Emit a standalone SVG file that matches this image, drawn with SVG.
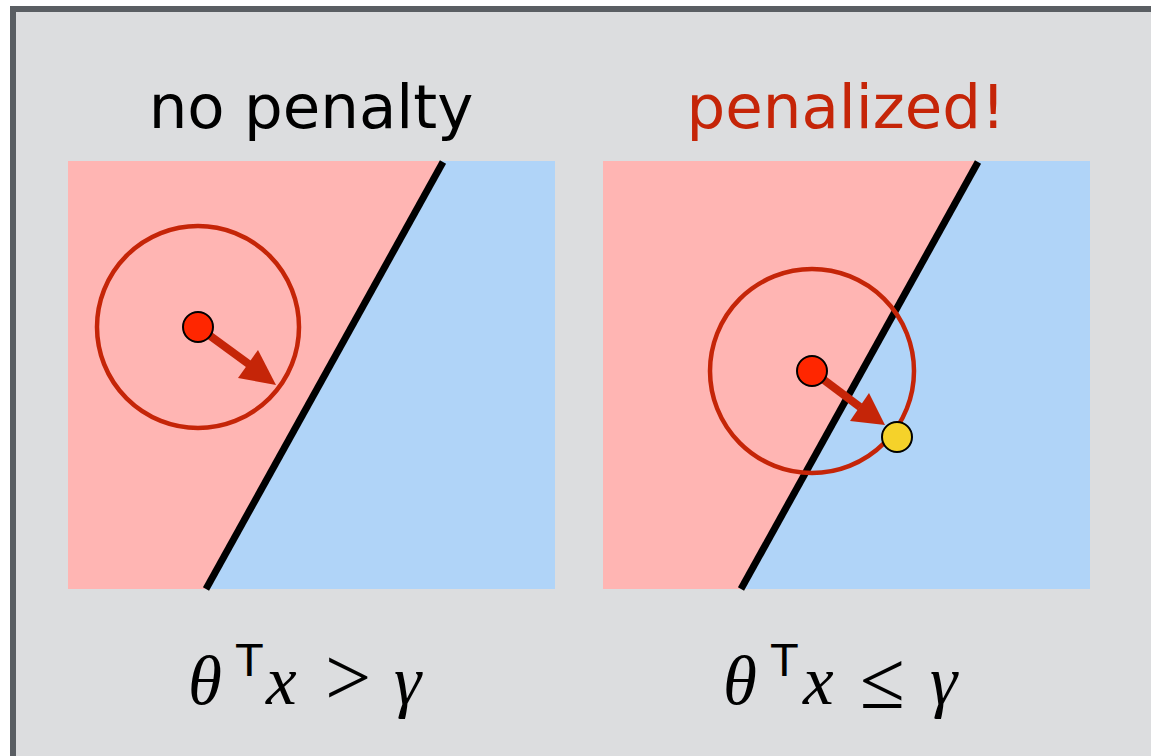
<svg xmlns="http://www.w3.org/2000/svg" width="1151" height="756" viewBox="0 0 1151 756">
<style>
.pink{fill:#FFB5B3}
.blue{fill:#B0D4F8}
.bound{stroke:#000;stroke-width:7;fill:none}
.ring{fill:none;stroke:#C52508;stroke-width:4.5}
.dot{fill:#FF2600;stroke:#000;stroke-width:2}
.ydot{fill:#F5D22A;stroke:#000;stroke-width:2}
.shaft{stroke:#C52508;stroke-width:8;fill:none}
.head{fill:#C52508}
.title{font-family:"DejaVu Sans","Open Sans",sans-serif;font-size:61px;text-anchor:middle}
.m{font-family:"Liberation Serif","Times New Roman",serif;font-style:italic;font-size:69px}
.mu{font-family:"Liberation Serif","Times New Roman",serif;font-size:82px}
.sup{font-family:"Liberation Sans",Arial,sans-serif;font-size:47px}
</style>
<rect x="0" y="0" width="1151" height="756" fill="#fff"/>
<rect x="13" y="9" width="1150" height="760" fill="#DCDDDF" stroke="#5A5E63" stroke-width="6"/>
<g id="left-panel">
<rect class="blue" x="68" y="161" width="487" height="428"/>
<polygon class="pink" points="68,161 441,161 205,589 68,589"/>
<line class="bound" x1="443" y1="162" x2="206" y2="589"/>
<circle class="ring" cx="198" cy="327" r="101"/>
<line class="shaft" x1="198" y1="327" x2="250" y2="365"/>
<polygon class="head" points="276,385 238,378 258,350"/>
<circle class="dot" cx="198" cy="327" r="15"/>
<text class="title" x="311" y="128">no penalty</text>
<text class="m" x="188" y="704">θ</text>
<text class="sup" x="235" y="676">T</text>
<text class="m" x="266" y="704">x</text>
<text class="mu" x="325" y="705">&gt;</text>
<text class="m" x="394" y="704">γ</text>
</g>
<g id="right-panel">
<rect class="blue" x="603" y="161" width="487" height="428"/>
<polygon class="pink" points="603,161 976,161 740,589 603,589"/>
<line class="bound" x1="978" y1="162" x2="741" y2="589"/>
<circle class="ring" cx="812" cy="371" r="102"/>
<line class="shaft" x1="812" y1="371" x2="860" y2="407"/>
<polygon class="head" points="885,425 850,421 869,393"/>
<circle class="dot" cx="812" cy="371" r="15"/>
<circle class="ydot" cx="897" cy="437" r="15"/>
<text class="title" x="846" y="128" fill="#C52508">penalized!</text>
<text class="m" x="723" y="704">θ</text>
<text class="sup" x="770" y="676">T</text>
<text class="m" x="803" y="704">x</text>
<text class="mu" x="860" y="708">≤</text>
<text class="m" x="930" y="704">γ</text>
</g>
</svg>
